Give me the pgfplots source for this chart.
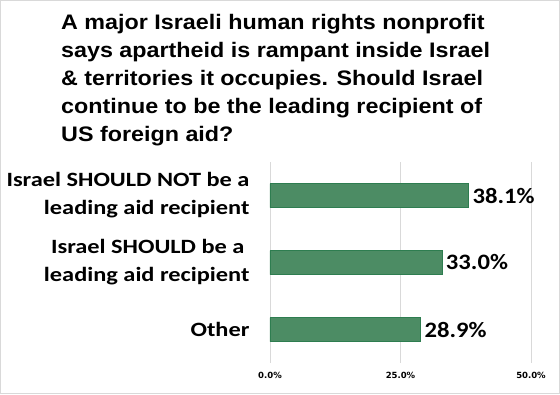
\documentclass[border=0pt]{standalone}
\usepackage{pgfplots}
\pgfplotsset{compat=1.18}
\usepackage{fontspec}
\setmainfont{Carlito}[FakeStretch=1.2]
\newfontfamily\valfont{Carlito}[FakeStretch=1.12]
\newfontfamily\titlefont{Liberation Sans}[FakeStretch=1.11]
\newfontfamily\tickfont{DejaVu Sans}
\definecolor{barfill}{RGB}{76,140,100}
\definecolor{barline}{RGB}{46,125,80}
\definecolor{gridc}{RGB}{217,217,217}
\begin{document}
\begin{tikzpicture}[x=1pt,y=1pt]
\draw[gridc, line width=1pt] (0.5,0.5) rectangle (559.5,393.5);
\begin{scope}[every node/.style={anchor=base west, inner sep=0pt, font=\titlefont\bfseries\fontsize{21}{25}\selectfont}]
\node at (61,364) {A major Israeli human rights nonprofit};
\node at (61,336) {says apartheid is rampant inside Israel};
\node at (61,308) {\& territories it occupies. Should Israel};
\node at (61,280) {continue to be the leading recipient of};
\node at (61,252) {US foreign aid?};
\end{scope}
\begin{axis}[
  at={(270pt,31pt)}, anchor=south west,
  scale only axis, width=261pt, height=201pt,
  xbar, bar width=24pt, bar shift=0pt,
  xmin=0, xmax=50, ymin=-0.5, ymax=2.5, y dir=reverse,
  xtick={0,25,50}, xticklabels={0.0\%,25.0\%,50.0\%},
  ytick={0,1,2},
  yticklabels={{Israel SHOULD NOT be a\\leading aid recipient},{Israel SHOULD be a\hspace*{5pt}\\leading aid recipient},{Other}},
  axis line style={draw=none},
  major tick length=0pt,
  xmajorgrids, major grid style={gridc, line width=0.8pt},
  xticklabel style={font=\tickfont\bfseries\fontsize{8.5}{10}\selectfont, yshift=-6pt},
  yticklabel style={font=\bfseries\fontsize{20.3}{28}\selectfont, align=right, xshift=-17pt},
  /pgf/number format/assume math mode=true,
  nodes near coords={\pgfmathprintnumber[fixed,fixed zerofill,precision=1,assume math mode=true]{\pgfplotspointmeta}\%},
  nodes near coords style={font=\valfont\bfseries\fontsize{22}{26}\selectfont, anchor=west, xshift=0pt},
  clip=false,
]
\addplot[fill=barfill, draw=barline, line width=0.8pt] coordinates {(38.1,0) (33.0,1) (28.9,2)};
\end{axis}
\end{tikzpicture}
\end{document}
